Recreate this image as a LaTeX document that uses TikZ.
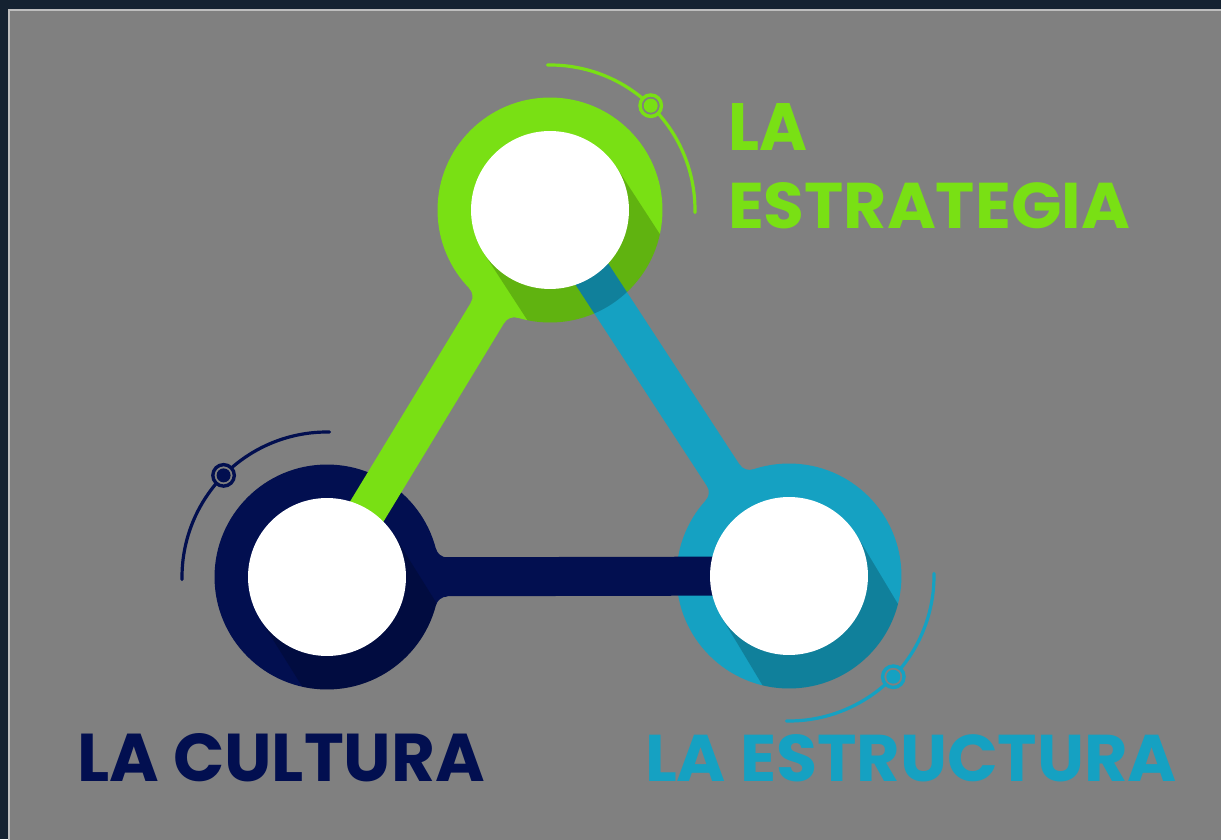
\documentclass[tikz,border=0pt]{standalone}
\usepackage{fontspec}
\setmainfont{Poppins}
\definecolor{bgdark}{RGB}{21,34,49}
\definecolor{panelgray}{RGB}{128,128,128}
\definecolor{panelborder}{RGB}{190,190,190}
\definecolor{cgreen}{RGB}{121,224,20}
\definecolor{ccyan}{RGB}{21,161,194}
\definecolor{cnavy}{RGB}{2,15,80}
\tikzset{
  ringdisk/.style={circle, inner sep=0pt, outer sep=0pt, minimum size=4.5cm},
  whitedisk/.style={circle, inner sep=0pt, outer sep=0pt, minimum size=3.16cm, fill=white},
  marker/.style={circle, inner sep=0pt, outer sep=0pt, minimum size=0.43cm, line width=0.068cm, fill=panelgray},
  deco/.style={line width=0.064cm, line cap=round},
  connector/.style={line width=0.78cm},
  shadowband/.style={fill=black, fill opacity=0.2},
  label/.style={anchor=south west, inner sep=0pt, outer sep=0pt}
}
% fillets of a bar leaving a ring (local frame: bar along +x)
\newcommand\fillets[3]{%
  \begin{scope}[shift={#1}, rotate=#2]
    \fill[#3] (0,0) -- (108.84,28.46) arc[start angle=194.66, end angle=270, radius=12] -- (120.45,0) -- cycle;
    \fill[#3] (0,0) -- (108.84,-28.46) arc[start angle=165.34, end angle=90, radius=12] -- (120.45,0) -- cycle;
  \end{scope}}
\newcommand\shadowof[2]{%
  \begin{scope}
    \clip #1 circle[radius=112.5];
    \fill[shadowband, shift={#1}, rotate=#2] (0,-79) rectangle (260,79);
  \end{scope}}
\begin{document}
\begin{tikzpicture}[x=0.02cm, y=0.02cm]
\useasboundingbox (0,0) rectangle (1221,839);
% background and panel
\fill[bgdark] (0,0) rectangle (1221,839);
\fill[panelgray] (9,-5) rectangle (1230,829);
\draw[panelborder, line width=0.035cm] (9,-5) -- (9,829) -- (1230,829);

% centres
\coordinate (G) at (550,629);
\coordinate (N) at (327,262);
\coordinate (C) at (789,263);

% rings
\node[ringdisk, fill=cnavy] (Nring) at (N) {};
\node[ringdisk, fill=ccyan] (Cring) at (C) {};
\node[ringdisk, fill=cgreen] (Gring) at (G) {};

% connectors with fillets
\draw[connector, cgreen] (G) -- (N);
\fillets{(G)}{238.7}{cgreen}
\draw[connector, cnavy] (N) -- (C);
\fillets{(N)}{0}{cnavy}
\draw[connector, ccyan] (C) -- (G);
\fillets{(C)}{123.1}{ccyan}

% long shadows
\shadowof{(G)}{-57}
\shadowof{(N)}{-58}
\shadowof{(C)}{-59}

% white centres
\node[whitedisk] (Gw) at (G) {};
\node[whitedisk] (Nw) at (N) {};
\node[whitedisk] (Cw) at (C) {};

% decorative arcs with markers
\draw[deco, cgreen] ([shift={(91:145)}]G) arc[start angle=91, end angle=-1, radius=145];
\node[marker, draw=cgreen] (Gm) at ([shift={(46:145)}]G) {};
\fill[cgreen] (Gm) circle[radius=7];

\draw[deco, cnavy] ([shift={(89:145)}]N) arc[start angle=89, end angle=181, radius=145];
\node[marker, draw=cnavy] (Nm) at ([shift={(135.5:145)}]N) {};
\fill[cnavy] (Nm) circle[radius=7];

\draw[deco, ccyan] ([shift={(1:145)}]C) arc[start angle=1, end angle=-91, radius=145];
\node[marker, draw=ccyan] (Cm) at ([shift={(-44:145)}]C) {};
\fill[ccyan] (Cm) circle[radius=7];

% labels
\node[label, text=cgreen] (tla) at (728,688) {\resizebox{1.58cm}{0.94cm}{\bfseries LA}};
\node[label, text=cgreen] (testr) at (728,610) {\resizebox{8.04cm}{0.92cm}{\bfseries ESTRATEGIA}};
\node[label, text=cnavy] (tcul) at (77,57) {\resizebox{8.16cm}{0.96cm}{\bfseries LA CULTURA}};
\node[label, text=ccyan] (testruc) at (645,57) {\resizebox{10.64cm}{0.94cm}{\bfseries LA ESTRUCTURA}};
\end{tikzpicture}
\end{document}
